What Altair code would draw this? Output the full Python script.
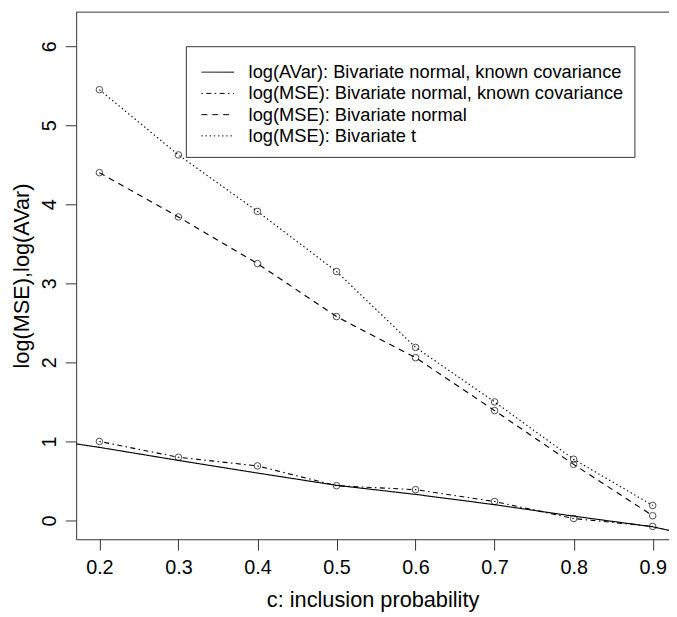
import altair as alt
import pandas as pd

# ---- data ----
c_grid = [0.2, 0.3, 0.4, 0.5, 0.6, 0.7, 0.8, 0.9]
mse_known_cov = [1.00, 0.80, 0.69, 0.44, 0.39, 0.24, 0.025, -0.075]
mse_normal = [4.40, 3.84, 3.25, 2.58, 2.06, 1.39, 0.71, 0.06]
mse_t = [5.45, 4.625, 3.91, 3.15, 2.19, 1.50, 0.775, 0.19]

c_avar = [0.17, 0.2, 0.3, 0.4, 0.5, 0.6, 0.7, 0.8, 0.9, 0.93]
avar_known_cov = [0.97, 0.925, 0.76, 0.60, 0.445, 0.33, 0.20, 0.055, -0.08, -0.145]

series_labels = [
    "log(AVar): Bivariate normal, known covariance",
    "log(MSE): Bivariate normal, known covariance",
    "log(MSE): Bivariate normal",
    "log(MSE): Bivariate t",
]
x_ticks = [0.2, 0.3, 0.4, 0.5, 0.6, 0.7, 0.8, 0.9]
y_ticks = [0, 1, 2, 3, 4, 5, 6]

# ---- tables ----
rows = []
for c, v in zip(c_avar, avar_known_cov):
    rows.append({"c": c, "value": v, "series": series_labels[0]})
mse_series = [mse_known_cov, mse_normal, mse_t]
for lab, vals in zip(series_labels[1:], mse_series):
    for c, v in zip(c_grid, vals):
        rows.append({"c": c, "value": v, "series": lab})
df_lines = pd.DataFrame(rows)
df_points = df_lines[df_lines["series"] != series_labels[0]]

FONT = "Liberation Sans"
dashes = [[1, 0], [1.5, 3.5, 5, 3.5], [6, 5], [1.4, 2.8]]

x_enc = alt.X(
    "c:Q",
    scale=alt.Scale(domain=[0.170625, 0.920625], nice=False, zero=False),
    axis=alt.Axis(values=x_ticks, format=".1f", title="c: inclusion probability",
                  labelPadding=8, titlePadding=12),
)
y_enc = alt.Y(
    "value:Q",
    scale=alt.Scale(domain=[-0.2375, 6.4375], nice=False, zero=False),
    axis=alt.Axis(values=y_ticks, format="d", title="log(MSE),log(AVar)",
                  labelAngle=270, labelPadding=6, titlePadding=6),
)

lines = alt.Chart(df_lines).mark_line(clip=True, color="black", strokeWidth=1.15).encode(
    x=x_enc,
    y=y_enc,
    order=alt.Order("c:Q"),
    strokeDash=alt.StrokeDash(
        "series:N",
        scale=alt.Scale(domain=series_labels, range=dashes),
        legend=alt.Legend(
            title=" ",
            titleFontSize=6,
            titlePadding=0,
            orient="none",
            legendX=111,
            legendY=35,
            symbolType="M-4,0H4",
            symbolSize=68,
            symbolStrokeColor="black",
            symbolStrokeWidth=1,
            symbolOffset=12,
            labelOffset=22,
            labelFont=FONT,
            labelFontSize=18.5,
            labelColor="black",
            labelLimit=1000,
            rowPadding=2.5,
            padding=11,
            strokeColor="#333333",
            fillColor="white",
        ),
    ),
)

points = alt.Chart(df_points).mark_point(
    shape="circle", filled=False, size=44, color="black", strokeWidth=1, clip=True
).encode(x="c:Q", y="value:Q")

top_border = alt.Chart(pd.DataFrame({"k": [0]})).mark_rule(color="#333333", strokeWidth=1).encode(
    y=alt.value(0.5), x=alt.value(0), x2=alt.value("width")
)

chart = (
    alt.layer(lines, points, top_border)
    .properties(width=600, height=534, background="white",
                autosize=alt.AutoSizeParams(type="none"),
                padding={"left": 69, "top": 0, "right": 0, "bottom": 75})
    .configure_view(stroke=None)
    .configure_axis(
        grid=False,
        domainColor="#333333",
        domainWidth=1,
        tickColor="#333333",
        tickSize=11,
        labelFont=FONT,
        labelFontSize=20,
        labelColor="black",
        titleFont=FONT,
        titleFontSize=22,
        titleFontWeight="normal",
        titleColor="black",
    )
)

chart.save("out.html", embed_options={"renderer": "svg", "actions": False})
